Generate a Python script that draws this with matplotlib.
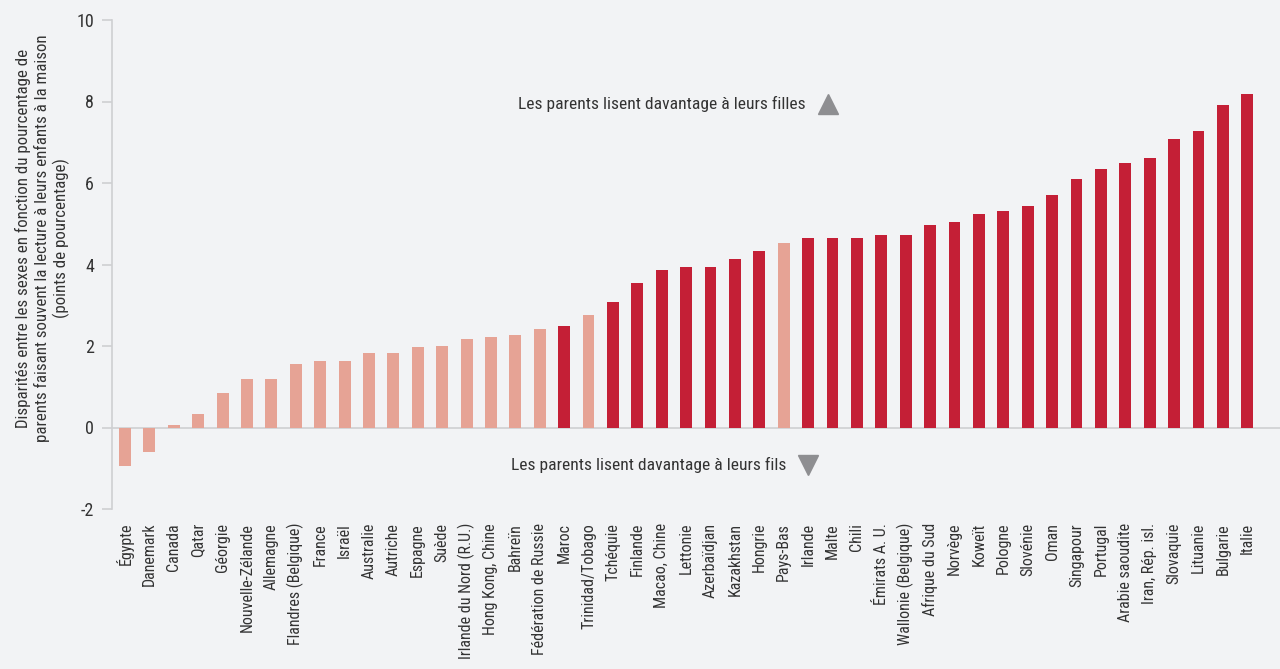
import matplotlib.pyplot as plt
from matplotlib import font_manager

# --- DATA ---
countries = [
    "Égypte", "Danemark", "Canada", "Qatar", "Géorgie", "Nouvelle-Zélande",
    "Allemagne", "Flandres (Belgique)", "France", "Israël", "Australie",
    "Autriche", "Espagne", "Suède", "Irlande du Nord (R.U.)", "Hong Kong, Chine",
    "Bahreïn", "Fédération de Russie", "Maroc", "Trinidad/Tobago", "Tchéquie",
    "Finlande", "Macao, Chine", "Lettonie", "Azerbaïdjan", "Kazakhstan",
    "Hongrie", "Pays-Bas", "Irlande", "Malte", "Chili", "Émirats A. U.",
    "Wallonie (Belgique)", "Afrique du Sud", "Norvège", "Koweït", "Pologne",
    "Slovénie", "Oman", "Singapour", "Portugal", "Arabie saoudite",
    "Iran, Rép. isl.", "Slovaquie", "Lituanie", "Bulgarie", "Italie",
]
gaps = [
    -0.95, -0.59, 0.05, 0.34, 0.84, 1.18,
    1.18, 1.57, 1.62, 1.62, 1.82,
    1.82, 1.97, 2.01, 2.16, 2.21,
    2.28, 2.41, 2.48, 2.75, 3.07,
    3.54, 3.86, 3.93, 3.93, 4.13,
    4.32, 4.52, 4.64, 4.64, 4.64, 4.72,
    4.72, 4.96, 5.04, 5.23, 5.31,
    5.43, 5.70, 6.09, 6.34, 6.49,
    6.61, 7.08, 7.27, 7.91, 8.18,
]
# True = statistically significant (dark red)
significant = [
    False, False, False, False, False, False,
    False, False, False, False, False,
    False, False, False, False, False,
    False, False, True, False, True,
    True, True, True, True, True,
    True, False, True, True, True, True,
    True, True, True, True, True,
    True, True, True, True, True,
    True, True, True, True, True,
]

# --- STYLE ---
BG = "#F2F3F5"
DARK = "#C41F36"
LIGHT = "#E6A395"
GRID = "#CFCFD2"
TXT = "#333333"

# pick a narrow font if one is around
fonts = font_manager.fontManager.ttflist
family, stretch = "DejaVu Sans", "normal"
for name in ["Roboto Condensed", "Liberation Sans Narrow", "Open Sans Condensed", "Noto Sans Condensed"]:
    if any(f.name == name for f in fonts):
        family = name
        break
else:
    for name in ["Roboto", "Noto Sans", "Open Sans", "DejaVu Sans"]:
        if any(f.name == name and f.stretch in ("condensed", "semi-condensed") for f in fonts):
            family, stretch = name, "condensed"
            break
plt.rcParams["font.family"] = [family, "DejaVu Sans"]
plt.rcParams["font.stretch"] = stretch
plt.rcParams["axes.unicode_minus"] = False
k = 0.8 if (stretch == "normal" and family == "DejaVu Sans") else 1.0

fig = plt.figure(figsize=(12.8, 6.69), dpi=100, facecolor=BG)
ax = fig.add_axes([112 / 1280, 1 - 509 / 669, 1 - 112 / 1280, (509 - 20) / 669])
ax.set_facecolor(BG)

x = list(range(len(countries)))
colors = [DARK if s else LIGHT for s in significant]
ax.bar(x, gaps, width=0.49, color=colors, zorder=2)

ax.axhline(0, color=GRID, lw=1.2, zorder=1)
ax.set_xlim(-0.53, 47.34)
ax.set_ylim(-2, 10)
ax.set_yticks([-2, 0, 2, 4, 6, 8, 10])
ax.set_xticks(x)
ax.set_xticklabels(countries, rotation=90, fontsize=11.5 * k, color=TXT)
ax.tick_params(axis="x", length=0, pad=10)
ax.tick_params(axis="y", length=7, color=GRID, width=1.2, labelsize=13 * k, labelcolor=TXT, pad=6)

for s in ["top", "right", "bottom"]:
    ax.spines[s].set_visible(False)
ax.spines["left"].set_color(GRID)
ax.spines["left"].set_linewidth(1.2)

ax.set_ylabel(
    "Disparités entre les sexes en fonction du pourcentage de\n"
    "parents faisant souvent la lecture à leurs enfants à la maison\n"
    "(points de pourcentage)",
    fontsize=12.2 * k, color=TXT, linespacing=1.2,
)
ax.yaxis.set_label_coords(-0.036, 0.554)

# annotations
ann = 12.6 * k
ax.text(27.9, 7.94, "Les parents lisent davantage à leurs filles",
        ha="right", va="center", fontsize=ann, color=TXT)
ax.plot([28.8], [7.94], marker="^", markersize=15, color="#8E8E91", zorder=3)
ax.text(27.1, -0.93, "Les parents lisent davantage à leurs fils",
        ha="right", va="center", fontsize=ann, color=TXT)
ax.plot([28.0], [-0.93], marker="v", markersize=15, color="#8E8E91", zorder=3)

fig.savefig("out.png", dpi=100, facecolor=BG)
